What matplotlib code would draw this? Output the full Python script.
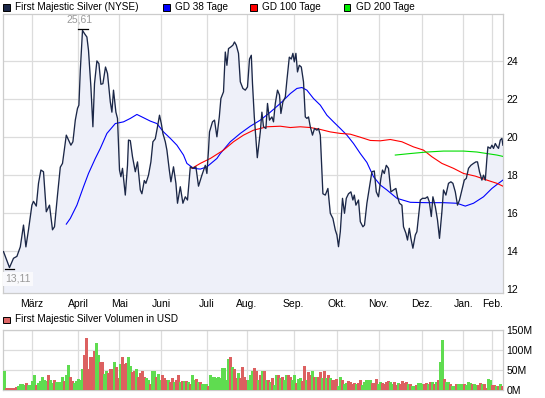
import numpy as np
import matplotlib
matplotlib.use("Agg")
import matplotlib.pyplot as plt
from matplotlib.patches import Rectangle

plt.rcParams['font.family'] = ['Liberation Sans', 'DejaVu Sans']

# price (trading day index, close)
price_pts = [
    (0, 13.95), (3, 13.11), (5, 13.6), (6.7, 13.7), (8.4, 14.2), (10, 15.35), (11.2, 14.2),
    (12.5, 15.1), (14.2, 16.4), (15, 16.6), (16.4, 16.35), (17.5, 17.55), (18.7, 18.25),
    (20, 18.16), (21.4, 16.05), (23, 16.4), (24.5, 15.1), (25.5, 15.26), (27, 16.93),
    (28.4, 18.4), (29.5, 18.6), (31.4, 20.09), (32.5, 19.83), (33.7, 19.56), (34.7, 19.74),
    (35.9, 20.88), (37, 21.5), (37.7, 21.67), (38.4, 23.5), (39.5, 25.61), (40.5, 25.44),
    (41.7, 25.26), (42.5, 24.56), (43.7, 22.63), (44.7, 20.53), (45.5, 22.8), (46.7, 24.0),
    (47.7, 23.86), (48.7, 22.77), (49.7, 22.8), (51, 23.68), (52, 23.34), (53.4, 21.84),
    (54.2, 21.3), (55, 22.46), (56.2, 21.3), (57, 20.97), (58, 18.25), (58.7, 17.9),
    (59.5, 18.34), (60.9, 16.93), (62, 18.5), (62.5, 19.83), (63.4, 19.8), (64.5, 18.95),
    (65.9, 18.16), (67, 18.68), (68.4, 17.2), (69.2, 17.0), (70.4, 17.7), (71.2, 17.55),
    (72.5, 17.98), (73.7, 18.68), (74.7, 19.74), (75.9, 19.9), (77, 20.53), (78, 21.14),
    (78.9, 20.7), (79.7, 20.18), (80.9, 19.74), (81.7, 19.3), (82.9, 18.25), (83.7, 17.63),
    (85, 18.42), (86.2, 17.55), (87, 16.5), (88.4, 17.37), (89.7, 16.5), (90.9, 16.84),
    (92, 16.67), (93.4, 18.42), (94.7, 18.34), (96.2, 18.42), (97.5, 17.4), (99.2, 17.98),
    (100.9, 18.5), (101.7, 18.07), (102.5, 19.3), (103, 20.26), (104.5, 20.79), (105.5, 20.88),
    (106.7, 20.0), (107.9, 21.05), (108.7, 22.02), (110, 22.37), (110.9, 24.47), (111.7, 23.77),
    (112.5, 24.65), (113.7, 24.74), (114.7, 24.83), (115.5, 25.0), (116.4, 24.83), (117.5, 24.4),
    (118.4, 22.9), (119.7, 22.55), (120.9, 22.46), (122, 22.63), (123, 24.1), (123.9, 24.3),
    (124.5, 22.8), (125.4, 21.05), (126.2, 19.92), (126.9, 18.9), (128.4, 20.26), (129.2, 21.3),
    (130, 20.53), (131.2, 20.44), (132, 21.76), (133, 20.88), (134.2, 21.05), (135, 20.79),
    (135.9, 21.76), (137, 22.46), (138, 22.2), (138.7, 21.23), (139.7, 21.84), (140.9, 22.1),
    (141.7, 22.98), (142.9, 24.2), (143.9, 24.1), (144.7, 24.4), (145.4, 23.95), (146.2, 24.4),
    (147, 23.42), (147.9, 23.77), (148.9, 23.68), (150, 22.9), (150.9, 21.05), (151.7, 20.97),
    (152.5, 21.05), (153.4, 20.53), (154.5, 20.09), (155.5, 20.44), (156.7, 20.35), (157.5, 20.44),
    (158.4, 20.09), (159.7, 17.0), (160.9, 16.93), (162.2, 17.28), (163.4, 15.97), (164.7, 15.7),
    (165.9, 15.09), (166.7, 14.83), (167.5, 14.21), (168.4, 15.0), (169.5, 16.76), (170.5, 15.97),
    (171.4, 16.76), (172.5, 17.0), (173.7, 17.1), (174.7, 16.67), (175.4, 16.93), (176.2, 16.4),
    (177.5, 16.67), (178.4, 15.53), (179.7, 15.26), (180.5, 15.35), (181.7, 16.5), (183, 17.37),
    (184.2, 18.16), (185.4, 18.2), (186.4, 17.1), (187.5, 16.84), (188.7, 17.81), (189.5, 18.25),
    (190.4, 18.07), (191.4, 18.5), (192.5, 18.34), (193.7, 17.1), (195, 17.2), (196.2, 17.28),
    (197, 16.84), (198, 16.5), (199.2, 16.4), (200, 15.26), (201.2, 14.92), (202, 14.56),
    (202.9, 15.18), (203.7, 14.65), (204.7, 14.13), (205.9, 14.83), (206.7, 15.0), (207.5, 15.8),
    (208.4, 16.67), (209.5, 16.76), (210.9, 16.76), (212, 16.84), (212.9, 16.58), (213.9, 15.8),
    (214.7, 16.84), (215.9, 16.32), (217, 15.62), (218, 14.65), (219.2, 16.05), (220, 17.2),
    (221.2, 16.93), (222.5, 17.55), (223.7, 17.63), (224.7, 17.55), (225.9, 17.1), (227, 16.4),
    (228, 16.67), (229.2, 17.2), (230.4, 17.72), (231.4, 17.81), (232.5, 18.34), (233.7, 18.5),
    (235, 18.6), (236.2, 18.68), (237, 18.68), (238, 18.16), (239.2, 17.72), (240, 17.98),
    (240.9, 17.72), (241.7, 18.86), (242.2, 19.47), (243.4, 19.39), (244.2, 19.56), (245, 19.39),
    (245.9, 19.65), (246.7, 19.5), (247.5, 19.39), (248.4, 19.83), (249.2, 19.92), (249.7, 19.56),
]

gd38_pts = [
    (31.4, 15.4), (33.4, 15.7), (36.7, 16.4), (40, 17.37), (42.5, 18.07), (45.9, 18.86),
    (48.4, 19.39), (51.7, 20.18), (55.9, 20.7), (60, 20.79), (63.4, 20.97), (66.7, 21.18),
    (69.2, 21.05), (73.4, 20.83), (76.7, 20.7), (80, 20.26), (83.4, 19.92), (86.7, 19.56),
    (90, 19.04), (91.7, 18.6), (95, 18.34), (98.4, 18.3), (101.7, 18.42), (106.7, 18.86),
    (108.4, 19.12), (113.4, 19.74), (118.4, 20.18), (123.4, 20.56), (128.4, 20.88), (133.4, 21.3),
    (138.4, 21.76), (143.4, 22.28), (146.7, 22.55), (149.2, 22.6), (151.7, 22.46), (155, 22.02),
    (158.4, 21.67), (161.7, 21.14), (165, 20.79), (168.4, 20.44), (171.7, 20.09), (175, 19.65),
    (178.4, 19.12), (181.7, 18.65), (185, 17.9), (188.4, 17.46), (191.7, 17.2), (196.7, 16.76),
    (203.4, 16.55), (211.7, 16.53), (220, 16.53), (226.7, 16.5), (230.9, 16.35), (235, 16.5),
    (240, 16.84), (244.2, 17.28), (247.5, 17.55), (249.7, 17.72),
]

gd100_pts = [
    (94.2, 18.34), (98.4, 18.6), (103.4, 18.86), (110, 19.3), (115, 19.74), (120, 20.09),
    (125, 20.35), (131.7, 20.53), (138.4, 20.56), (143.4, 20.49), (148.4, 20.53), (153.4, 20.49),
    (158.4, 20.39), (163.4, 20.26), (168.4, 20.18), (173.4, 20.14), (178.4, 19.98), (183.4, 19.81),
    (188.4, 19.79), (193.4, 19.86), (199.2, 19.74), (205, 19.47), (210, 19.3), (214.2, 18.95),
    (219.2, 18.6), (225, 18.34), (230, 18.07), (235.9, 17.93), (241.7, 17.72), (246.7, 17.55),
    (249.7, 17.4),
]

gd200_pts = [
    (195.9, 19.04), (203.4, 19.12), (211.7, 19.2), (220, 19.25), (230, 19.25), (236.7, 19.2),
    (241.7, 19.12), (246.7, 19.04), (249.7, 18.97),
]

# daily volume in million USD
volume = [
    46, 5, 5, 5, 5, 5, 7, 8, 15, 15, 11, 17, 11, 12, 21, 36, 12, 17, 21, 32,
    23, 21, 36, 23, 17, 23, 19, 19, 19, 33, 21, 36, 63, 33, 22, 17, 22, 26, 23, 53,
    88, 132, 51, 83, 83, 98, 117, 88, 69, 69, 40, 48, 42, 51, 51, 69, 58, 28, 65, 82,
    65, 67, 83, 61, 44, 47, 53, 33, 42, 47, 33, 28, 25, 13, 47, 48, 33, 40, 23, 36,
    28, 23, 23, 19, 28, 19, 23, 36, 19, 22, 22, 22, 19, 13, 36, 23, 26, 19, 19, 15,
    15, 15, 8, 36, 33, 32, 30, 32, 30, 55, 55, 25, 78, 83, 58, 53, 30, 42, 30, 57,
    33, 23, 25, 38, 48, 55, 48, 23, 36, 47, 48, 23, 25, 19, 28,
    12, 38, 38, 28, 32, 25, 36, 38, 33, 23, 38, 17, 26, 28, 22, 61, 23, 44, 36, 47,
    32, 33, 33, 44, 29, 47, 28, 36, 28, 23, 23, 26, 8, 33, 25, 15, 17, 21, 19, 15,
    17, 13, 17, 23, 11, 18, 23, 25, 23, 17, 17, 26, 15, 19, 17, 15, 19, 21, 18, 13,
    19, 12, 17, 15, 21, 17, 19, 13, 15, 8, 8, 11, 17, 17, 15, 15, 17, 15, 19, 19,
    13, 19, 23, 69, 126, 26, 19, 19, 15, 8, 8, 13, 13, 13, 13, 13, 12, 18, 17, 15,
    13, 11, 11, 17, 15, 15, 5, 26, 23, 11, 11, 8, 8, 13, 8,
]
# g = up day, r = down day
vol_dir = (
    "grrrrrrggg" "grggggrggg" "ggrggrgggg" "rggrrggggg" "rrrrrrggrr"
    "ggrrrgrrgr" "rrggrrgrrr" "rggrggrggr" "rrgrrgrrgr" "grgrggrgrg"
    "ggrggggggg" "gggrgrrgrr" "rrgggrrgrg" "rgrgr"
    "ggrgrggrrg" "grggrrgrrg" "rgrrgrgrgr" "rrggrggrrr" "rgrrgggggr"
    "rrggrrrrgg" "rrgrrrrgrg" "grgggrrgrg" "rgrggrggrg" "grgggrgggr"
    "ggrrgrrggr" "rgrgr"
)

months = ['März', 'April', 'Mai', 'Juni', 'Juli', 'Aug.', 'Sep.', 'Okt.', 'Nov.', 'Dez.', 'Jan.', 'Feb.']
month_day = [14.2, 37.4, 57.9, 78.9, 101.7, 121.7, 145, 166.7, 187.6, 209.2, 229.9, 244.4]

price_ticks = [12, 14, 16, 18, 20, 22, 24]
vol_ticks = [0, 50, 100, 150]
vol_labels = ['0M', '50M', '100M', '150M']

W, H = 545, 398
grid_col = '#dcdcdc'
navy = '#1b2747'
xlim = (-0.25, 249.75)

fig = plt.figure(figsize=(W / 100, H / 100), dpi=100)

def ax_rect(x0, y0, x1, y1):
    return [x0 / W, 1 - y1 / H, (x1 - x0) / W, (y1 - y0) / H]

ax = fig.add_axes(ax_rect(3, 13.5, 503, 293))
vax = fig.add_axes(ax_rect(3, 329.5, 503, 389.5))

day, close = np.array(price_pts).T
ymin, ymax = 11.77, 26.5

ax.fill_between(day, close, ymin, color='#eef0f9', lw=0, zorder=1)
ax.plot(day, close, color=navy, lw=0.95, zorder=4)
d, v = np.array(gd38_pts).T
ax.plot(d, v, color='#0000ff', lw=0.8, zorder=3)
d, v = np.array(gd100_pts).T
ax.plot(d, v, color='#ff0000', lw=0.8, zorder=3)
d, v = np.array(gd200_pts).T
ax.plot(d, v, color='#00dd00', lw=0.8, zorder=3)

# high / low markers
i_hi = int(np.argmax(close))
i_lo = int(np.argmin(close))
ax.plot([day[i_hi] - 2.2, day[i_hi] + 2.5], [close[i_hi] + 0.05] * 2, color='black', lw=0.9, zorder=5)
ax.annotate(f"{close[i_hi]:.2f}".replace('.', ','), (day[i_hi] - 1.5, close[i_hi]),
            xytext=(0, 4), textcoords='offset points', ha='center', va='bottom',
            fontsize=7.5, color='#999999', zorder=6)
ax.plot([day[i_lo] - 2.2, day[i_lo] + 2.0], [close[i_lo] - 0.05] * 2, color='black', lw=0.9, zorder=5)
ax.annotate(f"{close[i_lo]:.2f}".replace('.', ','), (day[i_lo], close[i_lo]),
            xytext=(-3.2, -4.5), textcoords='offset points', ha='left', va='top',
            fontsize=7.5, color='#999999', zorder=6,
            bbox=dict(boxstyle='square,pad=0.2', fc='#f9f9fc', ec='none'))

ax.set_xlim(*xlim)
ax.set_ylim(ymin, ymax)
ax.set_yticks(price_ticks)
ax.set_xticks(month_day)
ax.set_xticklabels(months)
ax.yaxis.tick_right()
ax.tick_params(axis='both', length=0, labelsize=7.5, colors='black')
ax.tick_params(axis='x', pad=4)
ax.tick_params(axis='y', pad=2.5)
ax.grid(True, color=grid_col, lw=0.9, zorder=2)
ax.set_axisbelow(True)

# volume
cols = ['#5fdc50' if c == 'g' else '#dc6060' for c in vol_dir]
vx = np.arange(len(volume))
vax.vlines(vx, 0, volume, colors=cols, lw=0.9, zorder=3, antialiased=False)
vax.set_xlim(*xlim)
vax.set_ylim(0, 152.5)
vax.set_yticks(vol_ticks)
vax.set_yticklabels(vol_labels)
vax.set_xticks(month_day)
vax.set_xticklabels([])
vax.yaxis.tick_right()
vax.tick_params(axis='both', length=0, labelsize=7.5, colors='black')
vax.tick_params(axis='y', pad=2.5)
vax.grid(True, color=grid_col, lw=0.9, zorder=1)
vax.set_axisbelow(True)

for a in (ax, vax):
    for s in a.spines.values():
        s.set_color('#cccccc')
        s.set_linewidth(0.9)

# legends
def legend_item(x, y, color, label):
    fig.patches.append(Rectangle((x / W, 1 - (y + 3.5) / H), 6.5 / W, 6.5 / H,
                                 transform=fig.transFigure, facecolor=color,
                                 edgecolor='black', lw=0.7))
    fig.text((x + 12) / W, 1 - y / H, label, fontsize=7.2, va='center', ha='left')

legend_item(3, 7, navy, 'First Majestic Silver (NYSE)')
legend_item(163, 7, '#0000ff', 'GD 38 Tage')
legend_item(250, 7, '#ff0000', 'GD 100 Tage')
legend_item(343.5, 7, '#00ee00', 'GD 200 Tage')
legend_item(3, 319.5, '#dd6666', 'First Majestic Silver Volumen in USD')

fig.savefig('out.png', dpi=100)
